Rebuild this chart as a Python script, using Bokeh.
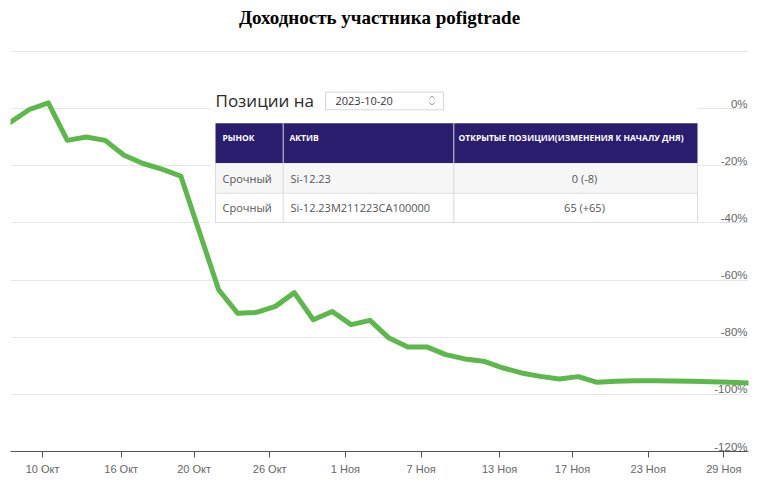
import datetime
from bokeh.plotting import figure
from bokeh.models import Range1d, FixedTicker, Grid, CustomJSTickFormatter
from bokeh.core.properties import value
from bokeh.embed import file_html
from bokeh.resources import INLINE

# ---------------- data ----------------
TITLE = "Доходность участника pofigtrade"
dates = [
    "2023-10-06", "2023-10-09", "2023-10-10", "2023-10-11", "2023-10-12", "2023-10-13",
    "2023-10-16", "2023-10-17", "2023-10-18", "2023-10-19", "2023-10-20",
    "2023-10-23", "2023-10-24", "2023-10-25", "2023-10-26", "2023-10-27",
    "2023-10-30", "2023-10-31", "2023-11-01", "2023-11-02", "2023-11-03",
    "2023-11-06", "2023-11-07", "2023-11-08", "2023-11-09", "2023-11-10",
    "2023-11-13", "2023-11-14", "2023-11-15", "2023-11-16", "2023-11-17",
    "2023-11-20", "2023-11-21", "2023-11-22", "2023-11-23", "2023-11-24",
    "2023-11-27", "2023-11-28", "2023-11-29", "2023-11-30",
]
returns_pct = [
    -4.7, -0.3, 2.0, -11.1, -9.9, -11.1, -16.3, -19.2, -21.2, -23.6,
    -43.5, -63.4, -71.6, -71.3, -69.2, -64.4, -73.9, -71.0, -75.6, -74.1,
    -80.3, -83.4, -83.4, -86.1, -87.6, -88.4, -90.7, -92.5, -93.7, -94.6,
    -93.8, -95.8, -95.4, -95.2, -95.2, -95.3, -95.4, -95.6, -95.8, -96.0,
]
tick_dates = ["2023-10-10", "2023-10-16", "2023-10-20", "2023-10-26", "2023-11-01",
              "2023-11-07", "2023-11-13", "2023-11-17", "2023-11-23", "2023-11-29"]
month_names = {10: "Окт", 11: "Ноя"}
y_ticks = [20, 0, -20, -40, -60, -80, -100, -120]
y_label_values = [0, -20, -40, -60, -80, -100, -120]

table_title = "Позиции на"
table_date = "2023-10-20"
table_headers = ["РЫНОК", "АКТИВ", "ОТКРЫТЫЕ ПОЗИЦИИ(ИЗМЕНЕНИЯ К НАЧАЛУ ДНЯ)"]
table_market = ["Срочный", "Срочный"]
table_asset = ["Si-12.23", "Si-12.23M211223CA100000"]
table_positions = ["0 (-8)", "65 (+65)"]

# ---------------- derived ----------------
n = len(dates)
xs = list(range(n))
tick_pos, tick_labels = [], []
for d in tick_dates:
    dt = datetime.date.fromisoformat(d)
    off = 0.15 if dt.weekday() == 0 else 0.3
    tick_pos.append(dates.index(d) - off)
    tick_labels.append(f"{dt.day} {month_names[dt.month]}")

W, H = 758, 484
BL, BR, BB = 10, 10, 33
GRID_TOP_PX = 51            # pixel row of the +20% gridline
X0, X1 = 0, n - 1
Y0 = -120
PX_PER_UNIT = (H - BB - GRID_TOP_PX) / (20 - Y0)
Y1 = 20 + GRID_TOP_PX / PX_PER_UNIT   # frame reaches the top of the canvas

p = figure(width=W, height=H, output_backend="svg", toolbar_location=None,
           x_range=Range1d(X0, X1), y_range=Range1d(Y0, Y1),
           y_axis_location=None,
           min_border_left=BL, min_border_right=BR, min_border_top=0, min_border_bottom=BB)
p.outline_line_color = None
p.background_fill_color = "white"
p.border_fill_color = "white"

p.xgrid.visible = False
p.ygrid.visible = False
p.add_layout(Grid(dimension=1, ticker=FixedTicker(ticks=y_ticks), grid_line_color="#e6e6e6"))

ax = p.xaxis[0]
ax.ticker = FixedTicker(ticks=tick_pos)
ax.formatter = CustomJSTickFormatter(args=dict(tpos=tick_pos, tlabels=tick_labels), code="""
let best = 0; let bd = 1e9;
for (let i = 0; i < tpos.length; i++) {
  const d = Math.abs(tpos[i] - tick);
  if (d < bd) { bd = d; best = i; }
}
return tlabels[best];
""")
ax.axis_line_color = "#555555"
ax.major_tick_line_color = "#555555"
ax.minor_tick_line_color = None
ax.major_tick_in = 0
ax.major_tick_out = 6
ax.major_label_standoff = 5
ax.major_label_text_font = "Liberation Sans"
ax.major_label_text_font_size = "11px"
ax.major_label_text_color = "#666666"

def px_x(px):
    return X0 + (px - BL) * (X1 - X0) / (W - BL - BR)

def px_y(py):
    return Y1 - py / PX_PER_UNIT

# title
p.text(x=[(X0 + X1) / 2], y=[px_y(17)], text=[TITLE], text_align="center",
       text_baseline="middle", text_font=value("Liberation Serif"),
       text_font_size="19px", text_font_style="bold", text_color="#000000")

# y labels (right side, above gridlines)
p.text(x=[X1] * len(y_label_values), y=y_label_values,
       text=[f"{v}%" for v in y_label_values],
       text_align="right", text_baseline="bottom", x_offset=-1, y_offset=1,
       text_font=value("Liberation Sans"), text_font_size="11.5px", text_color="#666666")

# main line
p.line(x=xs, y=returns_pct, line_color="#5cb84a", line_width=5,
       line_join="round", line_cap="round")

# ---------------- positions table overlay ----------------
T_L, T_R = 215, 697
HDR_T, HDR_B = 122.7, 162.7
R1_B, R2_B = 192.7, 222
COL2, COL3 = 282.7, 453.3

# white panel hiding grid
p.quad(left=[px_x(210)], right=[px_x(T_R)], top=[px_y(86)], bottom=[px_y(225)],
       fill_color="white", line_color=None)
# date input
p.quad(left=[px_x(325)], right=[px_x(443)], top=[px_y(91.7)], bottom=[px_y(109.3)],
       fill_color="white", line_color="#d6d6d6", line_width=1)
p.multi_line(xs=[[px_x(429), px_x(431.5), px_x(434)], [px_x(429), px_x(431.5), px_x(434)]],
             ys=[[px_y(98), px_y(95.5), px_y(98)], [px_y(102), px_y(104.5), px_y(102)]],
             line_color="#9a9a9a", line_width=1)
# header and rows
p.quad(left=[px_x(T_L)], right=[px_x(T_R)], top=[px_y(HDR_T)], bottom=[px_y(HDR_B)],
       fill_color="#2b1d6e", line_color=None)
p.quad(left=[px_x(T_L)], right=[px_x(T_R)], top=[px_y(HDR_B)], bottom=[px_y(R1_B)],
       fill_color="#f6f6f6", line_color=None)
# borders
p.segment(x0=[px_x(T_L)] * 2 + [px_x(T_L), px_x(T_R)],
          x1=[px_x(T_R)] * 2 + [px_x(T_L), px_x(T_R)],
          y0=[px_y(R1_B), px_y(R2_B), px_y(HDR_B), px_y(HDR_B)],
          y1=[px_y(R1_B), px_y(R2_B), px_y(R2_B), px_y(R2_B)],
          line_color="#dddddd", line_width=1)
p.segment(x0=[px_x(COL2), px_x(COL3)], x1=[px_x(COL2), px_x(COL3)],
          y0=[px_y(HDR_T)] * 2, y1=[px_y(R2_B)] * 2,
          line_color="#d8d8e0", line_width=1)

# texts
p.text(x=[px_x(T_L)], y=[px_y(99.5)], text=[table_title], text_align="left",
       text_baseline="middle", text_font=value("Open Sans"), text_font_size="17px",
       text_color="#2a2a2a")
p.text(x=[px_x(335)], y=[px_y(100.7)], text=[table_date], text_align="left",
       text_baseline="middle", text_font=value("Open Sans"), text_font_size="11px",
       text_color="#333333")
p.text(x=[px_x(222), px_x(289), px_x(458)], y=[px_y(137)] * 3, text=table_headers,
       text_align="left", text_baseline="middle", text_font=value("Open Sans"),
       text_font_size="8.5px", text_font_style="bold", text_color="#ffffff")
row_y = [px_y(178), px_y(207.3)]
p.text(x=[px_x(222)] * 2, y=row_y, text=table_market, text_align="left",
       text_baseline="middle", text_font=value("Open Sans"), text_font_size="11px",
       text_color="#555555")
p.text(x=[px_x(290)] * 2, y=row_y, text=table_asset, text_align="left",
       text_baseline="middle", text_font=value("Open Sans"), text_font_size="11px",
       text_color="#555555")
p.text(x=[px_x(584)] * 2, y=row_y, text=table_positions, text_align="center",
       text_baseline="middle", text_font=value("Open Sans"), text_font_size="11px",
       text_color="#555555")

open("out.html", "w").write(file_html(p, INLINE))
